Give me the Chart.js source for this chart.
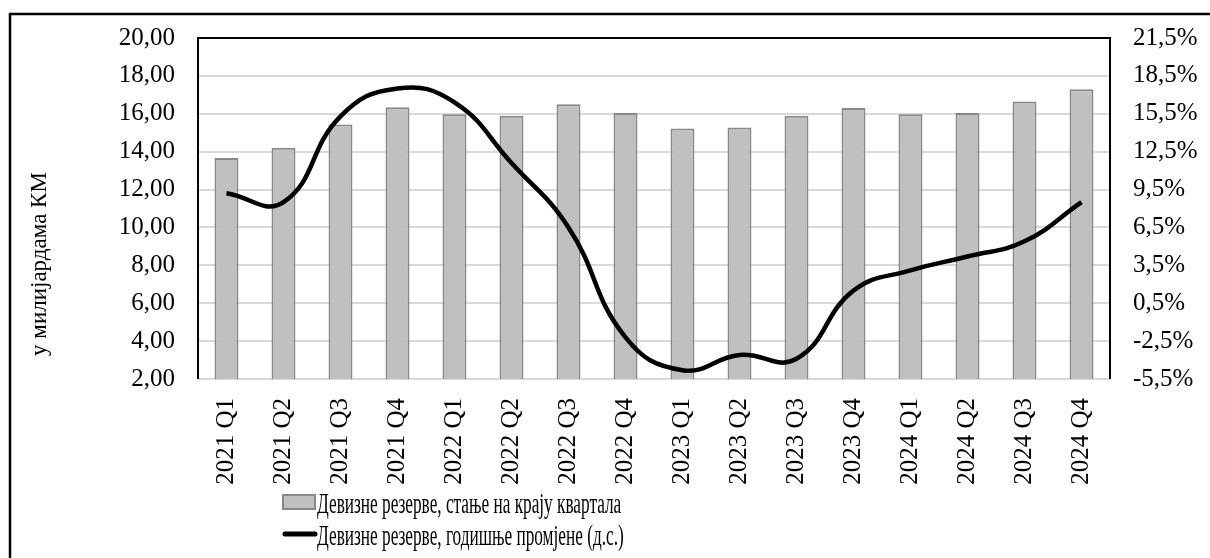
<!DOCTYPE html>
<html>
<head>
<meta charset="utf-8">
<script src="https://cdn.jsdelivr.net/npm/chart.js@4/dist/chart.umd.min.js"></script>
<style>
  html, body { margin: 0; padding: 0; background: #fff; }
  #wrap { width: 1210px; height: 558px; }
</style>
</head>
<body>
<div id="wrap"><canvas id="reserves" width="1210" height="558"></canvas></div>
<script>
const quarters = [
  '2021 Q1', '2021 Q2', '2021 Q3', '2021 Q4',
  '2022 Q1', '2022 Q2', '2022 Q3', '2022 Q4',
  '2023 Q1', '2023 Q2', '2023 Q3', '2023 Q4',
  '2024 Q1', '2024 Q2', '2024 Q3', '2024 Q4'
];
// stock at quarter end, bn KM
const reserves = [13.66, 14.21, 15.43, 16.35, 15.97, 15.90, 16.50, 16.04,
                  15.22, 15.28, 15.90, 16.30, 15.97, 16.04, 16.65, 17.30];
// year-on-year change, % (right axis)
const yoyChange = [9.2, 8.5, 15.3, 17.5, 16.4, 11.6, 6.5, -2.2,
                   -4.8, -3.6, -3.9, 1.5, 3.1, 4.2, 5.4, 8.5];
const rightTicks = [-5.5, -2.5, 0.5, 3.5, 6.5, 9.5, 12.5, 15.5, 18.5, 21.5];

const barLabel = 'Девизне резерве, стање на крају квартала';
const lineLabel = 'Девизне резерве, годишње промјене (д.с.)';
const axisTitle = 'у милијардама КМ';

const serif = '"Liberation Serif", "Times New Roman", serif';
const barFill = '#c0c0c0';
const barEdge = '#888888';

Chart.defaults.color = '#000';
Chart.defaults.font.family = serif;

// white page with the outer frame
const backdrop = {
  id: 'backdrop',
  beforeDraw(chart) {
    const ctx = chart.ctx;
    ctx.save();
    ctx.fillStyle = '#fff';
    ctx.fillRect(0, 0, chart.width, chart.height);
    ctx.strokeStyle = '#000';
    ctx.lineWidth = 2.5;
    ctx.strokeRect(10, 14, chart.width + 20, chart.height + 20);
    ctx.restore();
  }
};

// black frame round the plot area (bottom edge is the grey base gridline)
const plotFrame = {
  id: 'plotFrame',
  beforeDatasetsDraw(chart) {
    const { ctx, chartArea: a } = chart;
    ctx.save();
    ctx.strokeStyle = '#000';
    ctx.lineWidth = 2;
    ctx.beginPath();
    ctx.moveTo(a.left, a.bottom);
    ctx.lineTo(a.left, a.top);
    ctx.lineTo(a.right, a.top);
    ctx.lineTo(a.right, a.bottom);
    ctx.stroke();
    ctx.restore();
  }
};

// vertical axis title, centred on the whole figure height
const sideTitle = {
  id: 'sideTitle',
  afterDraw(chart) {
    const ctx = chart.ctx;
    ctx.save();
    ctx.translate(40, 264);
    ctx.rotate(-Math.PI / 2);
    ctx.font = '23px ' + serif;
    ctx.fillStyle = '#000';
    ctx.textAlign = 'center';
    ctx.textBaseline = 'middle';
    ctx.fillText(axisTitle, 0, 0);
    ctx.restore();
  }
};

// two-row legend (bars first, then the line) in a condensed serif face
const stackedLegend = {
  id: 'stackedLegend',
  afterDraw(chart) {
    const ctx = chart.ctx;
    const x0 = 283, keyW = 32, rowY = [502, 534], squeeze = 0.575;
    const items = chart.data.datasets.slice().sort((a, b) => b.order - a.order);
    ctx.save();
    items.forEach((ds, i) => {
      const y = rowY[i];
      if (ds.type === 'bar') {
        ctx.fillStyle = barFill;
        ctx.strokeStyle = barEdge;
        ctx.lineWidth = 2;
        ctx.fillRect(x0, y - 7, keyW, 14);
        ctx.strokeRect(x0, y - 7, keyW, 14);
      } else {
        ctx.strokeStyle = '#000';
        ctx.lineWidth = 5;
        ctx.lineCap = 'round';
        ctx.beginPath();
        ctx.moveTo(x0 + 2, y);
        ctx.lineTo(x0 + keyW, y);
        ctx.stroke();
      }
      ctx.save();
      ctx.translate(x0 + keyW + 2, y + 11);
      ctx.scale(squeeze, 1);
      ctx.font = '30px ' + serif;
      ctx.fillStyle = '#000';
      ctx.textAlign = 'left';
      ctx.textBaseline = 'alphabetic';
      ctx.fillText(ds.label, 0, 0);
      ctx.restore();
    });
    ctx.restore();
  }
};

new Chart(document.getElementById('reserves'), {
  data: {
    labels: quarters,
    datasets: [
      {
        type: 'line',
        label: lineLabel,
        data: yoyChange,
        yAxisID: 'y1',
        borderColor: '#000',
        borderWidth: 4.5,
        pointRadius: 0,
        tension: 0.45,
        fill: false,
        order: 0
      },
      {
        type: 'bar',
        label: barLabel,
        data: reserves,
        yAxisID: 'y',
        backgroundColor: barFill,
        borderColor: barEdge,
        borderWidth: 2,
        categoryPercentage: 1,
        barPercentage: 0.42,
        order: 1
      }
    ]
  },
  options: {
    responsive: false,
    animation: false,
    layout: { padding: { top: 37, left: 0, right: 0, bottom: 0 } },
    plugins: {
      legend: { display: false },
      title: { display: false },
      tooltip: { enabled: false }
    },
    scales: {
      x: {
        grid: { display: false, drawTicks: false },
        border: { display: false },
        ticks: {
          autoSkip: false,
          minRotation: 90,
          maxRotation: 90,
          padding: 19,
          font: { size: 25 }
        },
        afterFit(scale) { scale.height = 179; }
      },
      y: {
        position: 'left',
        min: 2,
        max: 20,
        grid: { color: '#d9d9d9', lineWidth: 2, drawTicks: false },
        border: { display: false },
        ticks: {
          stepSize: 2,
          padding: 23,
          font: { size: 25 },
          callback: v => v.toFixed(2).replace('.', ',')
        },
        afterFit(scale) { scale.width = 198; }
      },
      y1: {
        position: 'right',
        min: -5.5,
        max: 21.5,
        grid: { display: false, drawTicks: false },
        border: { display: false },
        ticks: {
          padding: 23,
          font: { size: 25 },
          callback: v => v.toFixed(1).replace('.', ',') + '%'
        },
        afterBuildTicks(scale) {
          scale.ticks = rightTicks.map(v => ({ value: v }));
        },
        afterFit(scale) { scale.width = 100; }
      }
    }
  },
  plugins: [backdrop, plotFrame, sideTitle, stackedLegend]
});
</script>
</body>
</html>
